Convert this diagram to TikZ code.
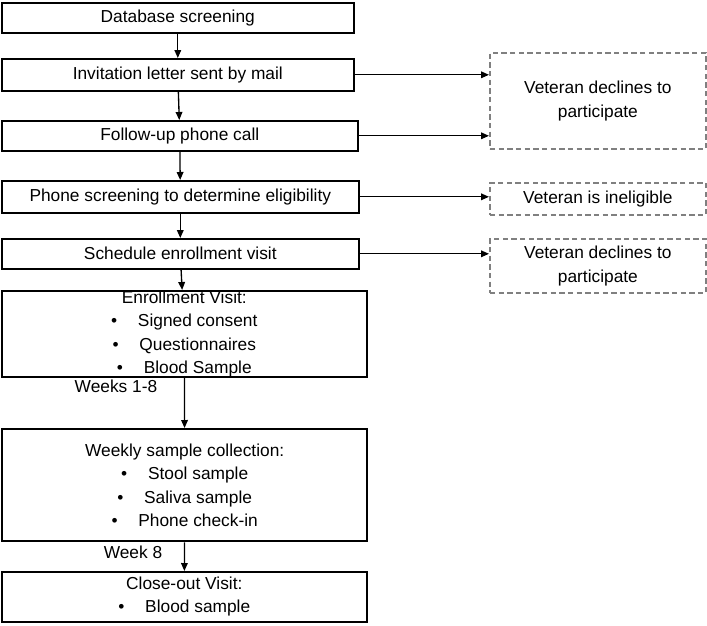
\documentclass[tikz,border=0pt]{standalone}
\usepackage{fontspec}
\setmainfont{Liberation Sans}
\usetikzlibrary{arrows.meta,positioning,calc}

\begin{document}
\begin{tikzpicture}[
    x=0.75pt, y=-0.75pt,
    every node/.style={
        font=\fontsize{13}{17.5}\selectfont,
        inner sep=0pt,
    },
    stage/.style={draw, line width=1.2pt, align=center, anchor=north west},
    side/.style={draw=gray, line width=1.3pt, dash pattern=on 4pt off 2.5pt, align=center, anchor=north west},
    flow/.style={-{Triangle[length=6pt,width=5pt]}, line width=1pt},
]
    \useasboundingbox (0,0) rectangle (707,625);
    % main column
    \node[stage, minimum width=352*0.75pt, minimum height=30*0.75pt] (db) at (1,2) {Database screening};
    \node[stage, minimum width=352*0.75pt, minimum height=32*0.75pt] (inv) at (1,58) {Invitation letter sent by mail};
    \node[stage, minimum width=356*0.75pt, minimum height=30*0.75pt] (call) at (1,120) {Follow-up phone call};
    \node[stage, minimum width=357*0.75pt, minimum height=32*0.75pt] (scr) at (1,180) {Phone screening to determine eligibility};
    \node[stage, minimum width=357*0.75pt, minimum height=30*0.75pt] (sched) at (1,238) {Schedule enrollment visit};
    \node[stage, minimum width=365*0.75pt, minimum height=80*0.75pt] (enr) at (1,290) {Enrollment Visit:\\
        \textbullet\hspace{1.2em}Signed consent\\
        \textbullet\hspace{1.2em}Questionnaires\\
        \textbullet\hspace{1.2em}Blood Sample};
    \node[stage, line width=1.8pt, minimum width=365*0.75pt, minimum height=112*0.75pt] (week) at (1,428) {Weekly sample collection:\\
        \textbullet\hspace{1.2em}Stool sample\\
        \textbullet\hspace{1.2em}Saliva sample\\
        \textbullet\hspace{1.2em}Phone check-in};
    \node[stage, minimum width=365*0.75pt, minimum height=50*0.75pt] (close) at (1,571) {Close-out Visit:\\
        \textbullet\hspace{1.2em}Blood sample};
    % side boxes
    \node[side, minimum width=216*0.75pt, minimum height=96*0.75pt] (dec1) at (489,52) {Veteran declines to\\participate};
    \node[side, minimum width=216*0.75pt, minimum height=32*0.75pt] (inel) at (489,182) {Veteran is ineligible};
    \node[side, minimum width=216*0.75pt, minimum height=54*0.75pt] (dec2) at (489,238) {Veteran declines to\\participate};
    % labels
    \node (lw1) at (116,386) {Weeks 1-8};
    \node (lw8) at (133,552) {Week 8};
    % connectors
    \draw[flow] (db) -- (inv);
    \draw[flow] (inv) -- (call);
    \draw[flow] (call) -- (scr);
    \draw[flow] (scr) -- (sched);
    \draw[flow] (sched) -- (enr);
    \draw[flow] (enr) -- (week);
    \draw[flow] (week) -- (close);
    \draw[flow] (inv) -- (inv -| dec1.west);
    \draw[flow] (call) -- (call -| dec1.west);
    \draw[flow] (scr) -- (scr -| inel.west);
    \draw[flow] (sched) -- (sched -| dec2.west);
\end{tikzpicture}
\end{document}
